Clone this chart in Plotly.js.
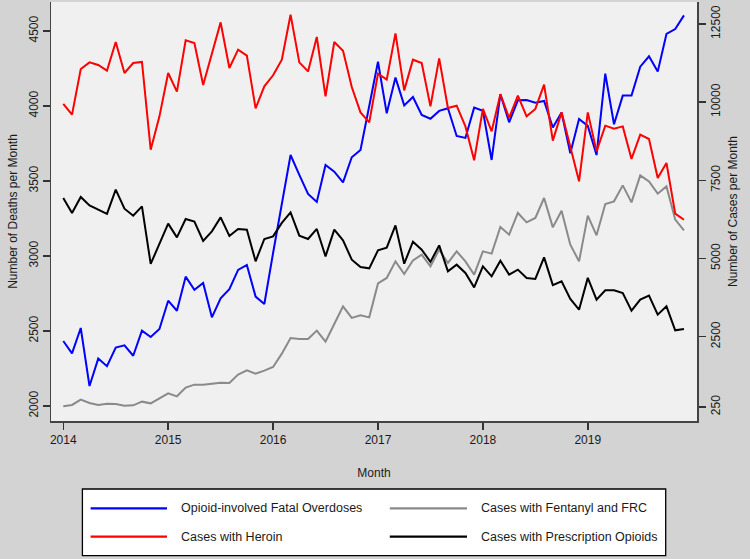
<!DOCTYPE html>
<html>
<head>
<meta charset="utf-8">
<script src="https://cdn.plot.ly/plotly-3.0.1.min.js"></script>
<style>
  html, body { margin: 0; padding: 0; background: #d3d3d3; }
  #chart { width: 750px; height: 559px; }
</style>
</head>
<body>
<div id="chart"></div>
<script>
// Months: Jan 2014 .. Dec 2019 (72 monthly points)
const startYear = 2014;
const nMonths = 72;

// Opioid-involved fatal overdoses (deaths per month, left axis)
const overdoses = [
  2433, 2351, 2520, 2133, 2316, 2265, 2389, 2404, 2335, 2502, 2460, 2513,
  2702, 2635, 2862, 2775, 2820, 2591, 2718, 2778, 2907, 2940, 2729, 2680,
  3020, 3350, 3673, 3540, 3413, 3360, 3607, 3562, 3491, 3658, 3707, 4000,
  4295, 3951, 4189, 4004, 4060, 3940, 3915, 3967, 3985, 3800, 3787, 3989,
  3968, 3640, 4078, 3891, 4038, 4040, 4022, 4033, 3856, 3956, 3685, 3913,
  3867, 3673, 4215, 3878, 4069, 4069, 4262, 4331, 4229, 4480, 4513, 4604
];

// Cases with heroin (cases per month, right axis)
const heroin = [
  9942, 9599, 11061, 11272, 11189, 11007, 11924, 10933, 11253, 11285, 8480, 9545,
  10933, 10335, 11976, 11892, 10549, 11573, 12551, 11093, 11678, 11486, 9801, 10505,
  10860, 11358, 12797, 11272, 10984, 12084, 10185, 11924, 11646, 10485, 9673, 9353,
  10911, 10719, 12199, 10377, 11358, 11253, 9865, 11400, 9814, 9887, 9225, 8138,
  9786, 9065, 10255, 9494, 10207, 9545, 9782, 10559, 8768, 9673, 8586, 7466,
  9673, 8426, 9248, 9152, 9225, 8183, 8960, 8822, 7575, 8055, 6433, 6240
];

// Cases with fentanyl and FRC (cases per month, right axis)
const fentanyl = [
  271, 316, 485, 379, 316, 357, 348, 293, 303, 421, 367, 540,
  687, 591, 869, 965, 965, 997, 1029, 1019, 1285, 1422, 1317, 1413,
  1531, 1956, 2458, 2426, 2426, 2692, 2340, 2906, 3469, 3098, 3181, 3117,
  4200, 4377, 4908, 4505, 4940, 5122, 4748, 5282, 4857, 5228, 4908, 4483,
  5228, 5154, 6008, 5762, 6456, 6155, 6296, 6935, 5995, 6529, 5442, 4908,
  6369, 5740, 6743, 6827, 7338, 6795, 7658, 7466, 7073, 7306, 6242, 5900
];

// Cases with prescription opioids (cases per month, right axis)
const prescription = [
  6935, 6456, 6967, 6699, 6561, 6424, 7201, 6593, 6369, 6667, 4825, 5442,
  6114, 5676, 6264, 6178, 5560, 5867, 6315, 5720, 5944, 5922, 4908, 5624,
  5707, 6136, 6475, 5730, 5624, 5944, 5068, 5922, 5580, 4962, 4729, 4684,
  5260, 5346, 6059, 4834, 5538, 5282, 4889, 5420, 4588, 4802, 4537, 4076,
  4748, 4428, 4930, 4483, 4643, 4377, 4345, 5036, 4150, 4268, 3706, 3363,
  4380, 3683, 3981, 3981, 3897, 3331, 3683, 3811, 3204, 3469, 2701, 2746
];

const yearTicks = [2014, 2015, 2016, 2017, 2018, 2019];
const deathTicks = [2000, 2500, 3000, 3500, 4000, 4500];
const caseTicks = [250, 2500, 5000, 7500, 10000, 12500];

const seriesNames = [
  "Opioid-involved Fatal Overdoses",
  "Cases with Fentanyl and FRC",
  "Cases with Heroin",
  "Cases with Prescription Opioids"
];

const months = [];
for (let i = 0; i < nMonths; i++) months.push(startYear + i / 12);

const FONT = "Liberation Sans, Arial, sans-serif";
const TXT = "#1a1a1a";
const COL = { blue: "#0000ff", red: "#ff0000", gray: "#8a8a8a", black: "#000000" };

// plot-area pixel box (for legend placement in paper coords)
const W = 750, H = 559, L = 51, R = 53, T = 2, B = 138;
const PW = W - L - R, PH = H - T - B;
const px = x => (x - L) / PW;
const py = y => (H - B - y) / PH;

const traces = [
  { x: months, y: fentanyl, name: seriesNames[1], yaxis: "y2", type: "scatter", mode: "lines",
    line: { color: COL.gray, width: 2 }, showlegend: false, hoverinfo: "x+y+name" },
  { x: months, y: prescription, name: seriesNames[3], yaxis: "y2", type: "scatter", mode: "lines",
    line: { color: COL.black, width: 2 }, showlegend: false },
  { x: months, y: heroin, name: seriesNames[2], yaxis: "y2", type: "scatter", mode: "lines",
    line: { color: COL.red, width: 2 }, showlegend: false },
  { x: months, y: overdoses, name: seriesNames[0], yaxis: "y", type: "scatter", mode: "lines",
    line: { color: COL.blue, width: 2 }, showlegend: false }
];

// Legend (manual, to match the reference box layout)
const legCols = [
  { lx0: 90.6, lx1: 167, tx: 179.2 },
  { lx0: 389.8, lx1: 467, tx: 479.2 }
];
const legRows = [508.3, 536.7];
const legItems = [
  { name: seriesNames[0], color: COL.blue, c: 0, r: 0 },
  { name: seriesNames[1], color: COL.gray, c: 1, r: 0 },
  { name: seriesNames[2], color: COL.red, c: 0, r: 1 },
  { name: seriesNames[3], color: COL.black, c: 1, r: 1 }
];

const shapes = [
  { type: "rect", xref: "paper", yref: "paper",
    x0: px(82.4), x1: px(665.7), y0: py(489), y1: py(555.7),
    fillcolor: "#ffffff", line: { color: "#000000", width: 1.3 }, layer: "below" }
];
const annotations = [];
legItems.forEach(it => {
  const c = legCols[it.c], ry = legRows[it.r];
  shapes.push({ type: "line", xref: "paper", yref: "paper",
    x0: px(c.lx0), x1: px(c.lx1), y0: py(ry), y1: py(ry),
    line: { color: it.color, width: 2.2 } });
  annotations.push({ xref: "paper", yref: "paper", x: px(c.tx), y: py(ry),
    xanchor: "left", yanchor: "middle", showarrow: false, text: it.name,
    font: { family: FONT, size: 12.5, color: TXT } });
});

const layout = {
  width: W, height: H,
  margin: { l: L, r: R, t: T, b: B, pad: 0 },
  paper_bgcolor: "#d3d3d3",
  plot_bgcolor: "#f0f0f0",
  font: { family: FONT, size: 12, color: TXT },
  showlegend: false,
  xaxis: {
    range: [2013.883, 2020.041],
    tickvals: yearTicks, ticktext: yearTicks.map(String),
    ticks: "outside", ticklen: 7, tickwidth: 1.5, tickcolor: "#333",
    showgrid: false, zeroline: false,
    showline: true, linecolor: "#444", linewidth: 1.5,
    tickfont: { family: FONT, size: 12, color: TXT },
    title: { text: "Month", font: { family: FONT, size: 12, color: TXT }, standoff: 22 },
    automargin: false
  },
  yaxis: {
    range: [1900, 4693],
    tickvals: deathTicks, ticktext: deathTicks.map(String),
    tickangle: -90,
    ticks: "outside", ticklen: 7, tickwidth: 1.5, tickcolor: "#333",
    showgrid: false, zeroline: false,
    showline: true, linecolor: "#444", linewidth: 1.5,
    tickfont: { family: FONT, size: 12, color: TXT },
    title: { text: "Number of Deaths per Month", font: { family: FONT, size: 12, color: TXT }, standoff: 6 },
    automargin: false
  },
  yaxis2: {
    overlaying: "y", side: "right",
    range: [-198, 13203],
    tickvals: caseTicks, ticktext: caseTicks.map(String),
    tickangle: -90,
    ticks: "outside", ticklen: 7, tickwidth: 1.5, tickcolor: "#333",
    showgrid: false, zeroline: false,
    showline: true, linecolor: "#444", linewidth: 1.5,
    tickfont: { family: FONT, size: 12, color: TXT },
    title: { text: "Number of Cases per Month", font: { family: FONT, size: 12, color: TXT }, standoff: 6 },
    automargin: false
  },
  shapes: shapes,
  annotations: annotations
};

Plotly.newPlot("chart", traces, layout, { staticPlot: true, displayModeBar: false });
</script>
</body>
</html>
